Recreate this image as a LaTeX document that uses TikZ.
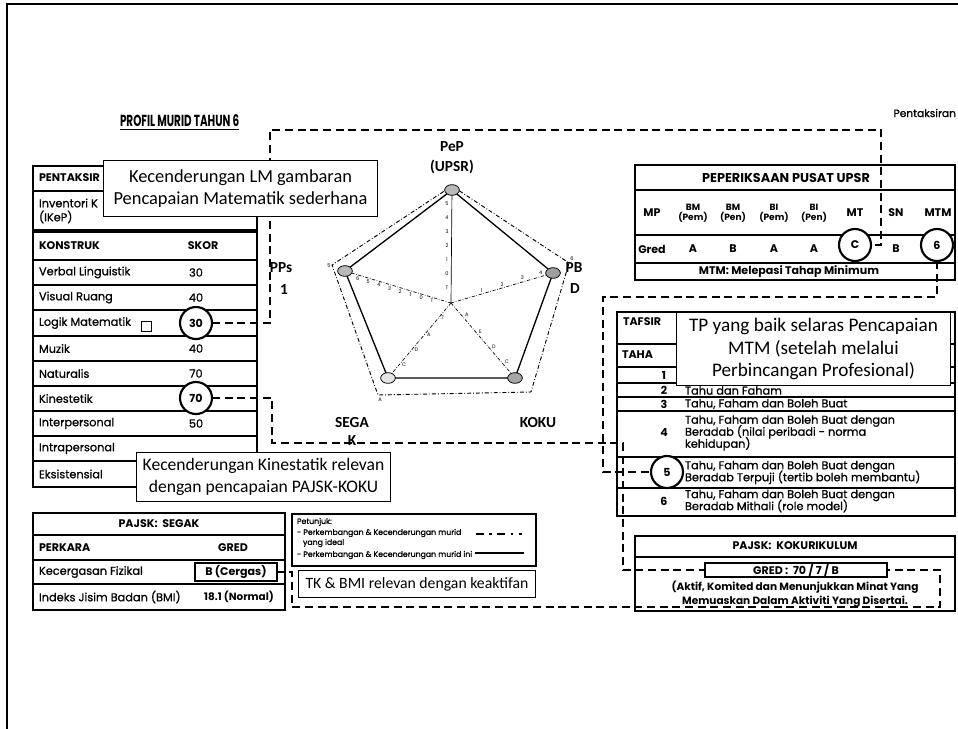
\documentclass[tikz,border=0pt]{standalone}
\usepackage{fontspec}
\setmainfont{Poppins}
\newfontfamily\popm{Poppins}[FakeBold=0.9]
\newfontfamily\carl{Carlito}
\usetikzlibrary{calc,shapes.geometric}
\newcommand\fT{\popm\fontsize{8.5}{9}\selectfont}
\newcommand\fB{\fontsize{8.3}{9}\selectfont\bfseries}
\newcommand\fS{\popm\fontsize{5.85}{7}\selectfont}
\newcommand\fK{\fontsize{3.8}{4}\selectfont}
\newcommand\fL{\carl\fontsize{11.5}{13}\selectfont\bfseries}
\begin{document}
\begin{tikzpicture}[x=0.75pt,y=-0.75pt,
 every node/.style={inner sep=0pt,outer sep=0pt},
 tbl/.style={line width=0.9pt},
 conn/.style={line width=1.8pt,dash pattern=on 6pt off 3.5pt},
 callout/.style={draw,fill=white,line width=0.8pt,align=center},
 ring/.style={circle,draw,fill=white,line width=1.6pt,minimum size=24pt,font=\fB},
 tx/.style={anchor=west,font=\fT},
 txm/.style={anchor=west,align=left,font=\fT,execute at begin node={\lineskiplimit=-20pt\relax}},
 txb/.style={anchor=west,font=\fB},
 ctx/.style={font=\fT},
 ctxb/.style={font=\fB},
 ideal/.style={line width=0.7pt,dash pattern=on 3pt off 1.5pt on 0.6pt off 1.5pt},
 axisl/.style={line width=0.5pt,dash pattern=on 2.5pt off 1.2pt on 0.5pt off 1.2pt},
 vmark/.style={ellipse,draw,fill=gray!55,line width=0.6pt,minimum width=11pt,minimum height=8pt},
 tk/.style={font=\fK},
 axlab/.style={font=\fL},
 gbox/.style={draw,line width=1.6pt,fill=white,font=\fB}
]
\useasboundingbox (0,0) rectangle (958,729);
\fill[white] (0,0) rectangle (958,729);
% frame
\draw[line width=1.5pt] (7,729) -- (7,4) -- (958,4);

% title
\node[anchor=west,font=\fontsize{12}{13}\selectfont\bfseries] (title) at (120,121) {\scalebox{0.65}[1]{PROFIL MURID TAHUN 6}};
\draw[line width=0.9pt] ([yshift=-1.8pt]title.south west) -- ([yshift=-1.8pt]title.south east);
\node[anchor=east,font=\popm\fontsize{8}{9}\selectfont] (pent) at (956,113) {Pentaksiran};

% ---------- left table ----------
\draw[tbl] (33,166) rectangle (257,230);
\draw[tbl] (33,191) -- (257,191);
\node[txb] (hPent) at (39,178) {PENTAKSIR};
\node[tx] (hInv) at (39,203) {Inventori K};
\node[tx] (hIkep) at (39,217) {(IKeP)};

\draw[tbl] (33,232) rectangle (257,487);
\foreach \yy in {260,285,310,336,361,386,411,436,461} \draw[tbl] (33,\yy) -- (257,\yy);
\node[txb] (hKon) at (39,246) {KONSTRUK};
\node[ctxb] (hSkor) at (203,246) {SKOR};
\node[tx] (r1) at (39,272.5) {Verbal Linguistik};  \node[ctx] (s1) at (196,272.5) {30};
\node[tx] (r2) at (39,297.5) {Visual Ruang};       \node[ctx] (s2) at (196,297.5) {40};
\node[tx] (r3) at (39,323) {Logik Matematik};
\draw[line width=0.6pt] (141,321) rectangle (151,331);
\node[tx] (r4) at (39,348.5) {Muzik};              \node[ctx] (s4) at (196,348.5) {40};
\node[tx] (r5) at (39,373.5) {Naturalis};          \node[ctx] (s5) at (196,373.5) {70};
\node[tx] (r6) at (39,398.5) {Kinestetik};
\node[tx] (r7) at (39,423.5) {Interpersonal};      \node[ctx] (s7) at (196,423.5) {50};
\node[tx] (r8) at (39,448.5) {Intrapersonal};
\node[tx] (r9) at (39,474) {Eksistensial};

% ---------- PAJSK SEGAK ----------
\draw[tbl] (33,513) rectangle (285,610);
\foreach \yy in {535,560,584} \draw[tbl] (33,\yy) -- (285,\yy);
\node[ctxb] (hSeg) at (159,524) {PAJSK:\ \ SEGAK};
\node[txb] (hPer) at (39,548) {PERKARA};
\node[ctxb] (hGred) at (233,548) {GRED};
\node[tx] (kf) at (39,572) {Kecergasan Fizikal};
\node[gbox,minimum width=61pt,minimum height=14pt] (bc) at (236,572) {B (Cergas)};
\node[tx] (bmi) at (39,597) {Indeks Jisim Badan (BMI)};
\node[ctxb,font=\fB\fontsize{7.8}{9}\selectfont] (bmiv) at (239,597) {18.1 (Normal)};

% ---------- Petunjuk ----------
\draw[line width=0.8pt] (292,514) rectangle (536,566);
\node[anchor=west,font=\fS] (pj) at (297,522) {Petunjuk:};
\node[anchor=west,font=\fS] (pj1) at (297,533) {- Perkembangan \& Kecenderungan murid};
\node[anchor=west,font=\fS] (pj2) at (303,543) {yang ideal};
\node[anchor=west,font=\fS] (pj3) at (297,555) {- Perkembangan \& Kecenderungan murid ini};
\coordinate (la1) at (476,534); \coordinate (la2) at (522,534);
\coordinate (lb1) at (475,553); \coordinate (lb2) at (524,553);
\draw[line width=1.2pt,dash pattern=on 6pt off 4pt on 2pt off 4pt] (la1) -- (la2);
\draw[line width=1.2pt] (lb1) -- (lb2);

% ---------- PEPERIKSAAN PUSAT UPSR ----------
\draw[tbl] (635,165) rectangle (955,280);
\foreach \yy in {190,235,263} \draw[tbl] (635,\yy) -- (955,\yy);
\node[ctxb,font=\fB\fontsize{9.6}{10}\selectfont] (hUpsr) at (786,178) {PEPERIKSAAN PUSAT UPSR};
\node[ctxb] (mp) at (652,213) {MP};
\node[ctxb,align=center,font=\fB\fontsize{6.8}{7.8}\selectfont] (bm1) at (693,213) {BM\\(Pem)};
\node[ctxb,align=center,font=\fB\fontsize{6.8}{7.8}\selectfont] (bm2) at (733,213) {BM\\(Pen)};
\node[ctxb,align=center,font=\fB\fontsize{6.8}{7.8}\selectfont] (bi1) at (774,213) {BI\\(Pem)};
\node[ctxb,align=center,font=\fB\fontsize{6.8}{7.8}\selectfont] (bi2) at (814,213) {BI\\(Pen)};
\node[ctxb] (mt) at (855,213) {MT};
\node[ctxb] (sn) at (896,213) {SN};
\node[ctxb] (mtm) at (938,213) {MTM};
\node[ctxb] (gr) at (652,249) {Gred};
\node[ctxb] (g1) at (693,249) {A};
\node[ctxb] (g2) at (733,249) {B};
\node[ctxb] (g3) at (774,249) {A};
\node[ctxb] (g4) at (814,249) {A};
\node[ring] (cC) at (855,245) {C};
\node[ctxb] (g6) at (896,249) {B};
\node[ring] (c6) at (937,245) {6};
\node[ctxb] (mtmr) at (789,272) {MTM: Melepasi Tahap Minimum};

% ---------- TAFSIRAN ----------
\draw[tbl] (617,312) rectangle (955,516);
\foreach \yy in {344,367,383,397,411,457,488} \draw[tbl] (617,\yy) -- (955,\yy);
\node[txb] (hTaf) at (623,322) {TAFSIR};
\node[txb] (hTah) at (622,355) {TAHA};
\node[ctxb] (t1) at (664,375) {1};
\node[ctxb] (t2) at (664,390) {2}; \node[tx] (t2t) at (685,390.5) {Tahu dan Faham};
\node[ctxb] (t3) at (664,404) {3}; \node[tx] (t3t) at (685,404) {Tahu, Faham dan Boleh Buat};
\node[ctxb] (t4) at (664,433) {4};
\node[txm] (t4t) at (685,433) {Tahu, Faham dan Boleh Buat dengan\\Beradab (nilai peribadi - norma\\kehidupan)};
\node[ring] (c5) at (667,472) {5};
\node[txm] (t5t) at (685,472.5) {Tahu, Faham dan Boleh Buat dengan\\Beradab Terpuji (tertib boleh membantu)};
\node[ctxb] (t6) at (664,501) {6};
\node[txm] (t6t) at (685,501) {Tahu, Faham dan Boleh Buat dengan\\Beradab Mithali (role model)};

% ---------- PAJSK KOKURIKULUM ----------
\draw[tbl] (635,536) rectangle (955,611);
\draw[tbl] (635,557) -- (955,557);
\node[ctxb] (hKoku) at (795,546) {PAJSK:\ \ KOKURIKULUM};
\node[gbox,minimum width=136pt,minimum height=11pt] (gred) at (796,570) {GRED :\ \ 70 / 7 / B};
\node[ctxb,align=center,font=\fB\fontsize{7.9}{10.5}\selectfont] (akt) at (795,594) {(Aktif, Komited dan Menunjukkan Minat Yang\\Memuaskan Dalam Aktiviti Yang Disertai.};

% ---------- radar ----------
\coordinate (O) at (451,303);
\coordinate (I1) at (452,186);
\coordinate (I2) at (569,263);
\coordinate (I3) at (531,392);
\coordinate (I4) at (378,395);
\coordinate (I5) at (332,265);
\draw[ideal] (I1) -- (I2) -- (I3) -- (I4) -- (I5) -- cycle;
\coordinate (P1) at (452,190);
\coordinate (P2) at (553,273);
\coordinate (P3) at (515,378);
\coordinate (P4) at (388,378);
\coordinate (P5) at (345,271);
\draw[line width=0.5pt] (O) -- (P1);
\draw[axisl] (O) -- (P2);
\draw[axisl] (O) -- (P3);
\draw[axisl] (O) -- (P4);
\draw[axisl] (O) -- (P5);
\draw[line width=1pt] (P1) -- (P2) -- (P3) -- (P4) -- (P5) -- cycle;
\node[vmark] (vPeP) at (P1) {};
\node[vmark,fill=gray!75] (vPBD) at (P2) {};
\node[vmark,fill=gray!70] (vKOKU) at (P3) {};
\node[vmark,fill=gray!20] (vSEGAK) at (P4) {};
\node[vmark] (vPPs) at (P5) {};
% ticks
\foreach \lab [count=\i from 0] in {5,4,3,2,1,0,T}
  \node[tk] at (447,{204+14*\i}) {\lab};
\foreach \lab/\f in {1/0.3,2/0.5,3/0.7,4/0.88}
  \node[tk,above=1.5pt] at ($(O)!\f!(P2)$) {\lab};
\foreach \lab/\f in {T/0.18,0/0.28,1/0.38,2/0.48,3/0.58,4/0.68,5/0.78,6/0.88}
  \node[tk,below=1.5pt] at ($(O)!\f!(P5)$) {\lab};
\foreach \lab/\f in {7/0.2,A/0.42,D/0.62,C/0.82}
  \node[tk,right=2pt] at ($(O)!\f!(P4)$) {\lab};
\foreach \lab/\f in {A/0.2,E/0.42,D/0.62,C/0.82}
  \node[tk,above right=1pt] at ($(O)!\f!(P3)$) {\lab};
\node[tk] at (329,266) {5};
\node[tk] at (572,259) {6};
\node[tk] at (380,400) {A};
% axis names
\node[axlab] (lPeP) at (452,147) {PeP};
\node[axlab] (lUpsr) at (452,167) {(UPSR)};
\node[axlab] (lPPs) at (281,268) {PPs};
\node[axlab] (lPPs2) at (284,290) {1};
\node[axlab] (lPB) at (574,268) {PB};
\node[axlab] (lPB2) at (575,289) {D};
\node[axlab] (lSeg) at (352,423) {SEGA};
\node[axlab] (lSeg2) at (352,441) {K};
\node[axlab] (lKoku) at (538,423) {KOKU};

% ---------- circles left ----------
\node[ring] (c30) at (196,323) {30};
\node[ring] (c70) at (196,398) {70};

% ---------- connectors ----------
\draw[conn] (c30.east) -- (270,323) -- (270,130) -- (881,130) |- (cC.east);
\draw[conn] (c70.east) -- (272,398) -- (272,443) -- (623,443) |- (gred.west);
\draw[conn] (c6.south) -- (937,297) -- (603,297) |- (c5.west);
\draw[conn] (bc.east) -| (292,607) -- (940,607) |- (gred.east);

% ---------- callouts ----------
\node[callout,font=\carl\fontsize{13.8}{17}\selectfont,minimum width=206pt,minimum height=42pt] (co1) at (240.5,188.5) {Kecenderungan LM gambaran\\Pencapaian Matematik sederhana};
\node[callout,font=\carl\fontsize{13.2}{17}\selectfont,minimum width=190pt,minimum height=37pt] (co2) at (263.5,477) {Kecenderungan Kinestatik relevan\\dengan pencapaian PAJSK-KOKU};
\node[callout,font=\carl\fontsize{14.4}{17}\selectfont,minimum width=205pt,minimum height=55pt] (co3) at (813.5,349) {TP yang baik selaras Pencapaian\\MTM (setelah melalui\\Perbincangan Profesional)};
\node[callout,font=\carl\fontsize{11.8}{14}\selectfont,minimum width=178pt,minimum height=20pt] (co4) at (417,584) {TK \& BMI relevan dengan keaktifan};
\end{tikzpicture}
\end{document}
